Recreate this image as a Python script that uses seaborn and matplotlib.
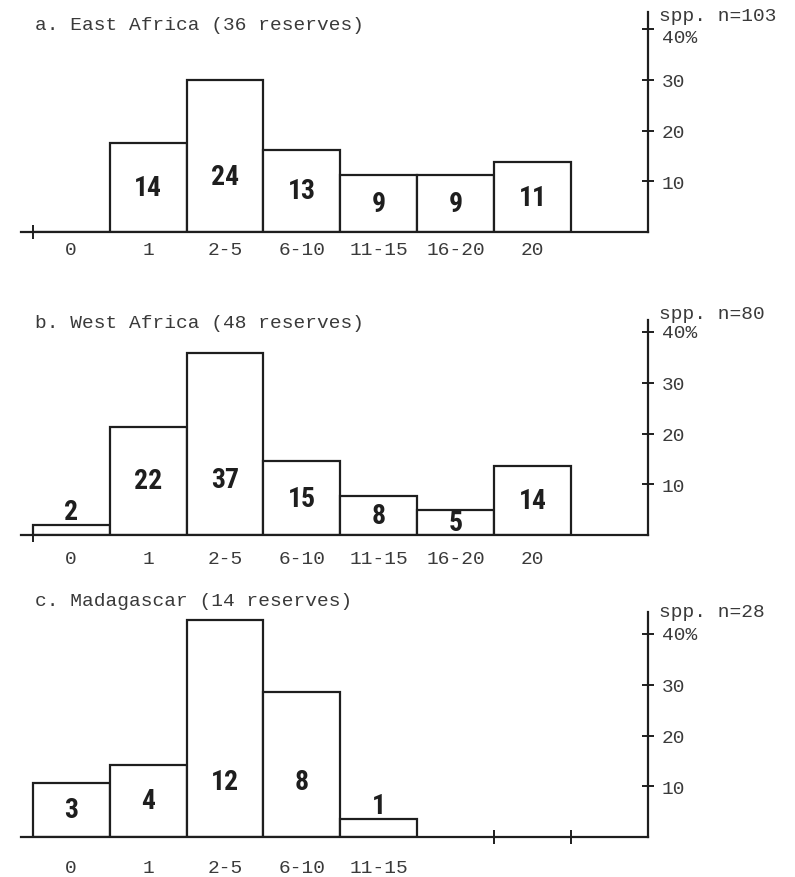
import matplotlib
matplotlib.use("Agg")
import numpy as np
import pandas as pd
import seaborn as sns
import matplotlib.pyplot as plt
from matplotlib import font_manager

# ---------------- data ----------------
categories_ab = ["0", "1", "2-5", "6-10", "11-15", "16-20", "20"]
categories_c = ["0", "1", "2-5", "6-10", "11-15"]
east_counts = [0, 14, 24, 13, 9, 9, 11]
west_counts = [2, 22, 37, 15, 8, 5, 14]
mada_counts = [3, 4, 12, 8, 1]
panel_titles = ["a. East Africa (36 reserves)",
                "b. West Africa (48 reserves)",
                "c. Madagascar (14 reserves)"]
n_labels = ["spp. n=103", "spp. n=80", "spp. n=28"]
pct_ticks = [10, 20, 30, 40]
pct_tick_labels = ["10", "20", "30", "40%"]

panels = [(categories_ab, east_counts), (categories_ab, west_counts), (categories_c, mada_counts)]

# ---------------- style ----------------
sns.set_theme(style="white")
mono = "Liberation Mono"
names = {f.name for f in font_manager.fontManager.ttflist}
num_font = dict(family="DejaVu Sans", weight="bold", stretch="condensed")
for cand in ["Liberation Sans Narrow", "Roboto Condensed", "Open Sans Condensed"]:
    if cand in names:
        num_font = dict(family=cand, weight="bold")
        break
plt.rcParams["font.family"] = [mono, "DejaVu Sans"]
INK = "#1e1e1e"
TXT = "#3a3a3a"

W, H = 795, 878
fig = plt.figure(figsize=(W / 100, H / 100), dpi=100)
fig.patch.set_facecolor("white")

px_per_pct = 5.075
bin_px = 76.9
axis_px = 648
xlo, xhi = -0.65, 7.5
left_px = axis_px - (xhi - xlo) * bin_px

baselines = [233, 536, 838]
ytops = [43.4, 42.3, 44.3]
title_y = [25, 323, 601]
label_pads = [6.5, 11, 16]
spp_offsets = [10, 13, 16]
top_label_va = ["top", "center", "center"]
edge_ticks = [[-0.5], [-0.5], [5.5, 6.5]]

for k, (cats, counts) in enumerate(panels):
    ax_h = ytops[k] * px_per_pct
    ax = fig.add_axes([left_px / W, (H - baselines[k]) / H,
                       (axis_px - left_px) / W, ax_h / H])
    total = sum(counts)
    df = pd.DataFrame({"cat": cats, "count": counts})
    df["pct"] = df["count"] / total * 100
    sns.barplot(data=df, x="cat", y="pct", order=cats, color="white",
                edgecolor=INK, linewidth=1.6, width=1.0, saturation=1,
                ax=ax)
    ax.set_xlim(xlo, xhi)
    ax.set_ylim(0, ytops[k])
    ax.set_xlabel("")
    ax.set_ylabel("")
    for s in ["top", "left"]:
        ax.spines[s].set_visible(False)
    for s in ["bottom", "right"]:
        ax.spines[s].set_visible(True)
        ax.spines[s].set_color(INK)
        ax.spines[s].set_linewidth(1.6)
    ax.yaxis.tick_right()
    ax.set_yticks(pct_ticks)
    ax.set_yticklabels(pct_tick_labels)
    ax.tick_params(axis="y", which="major", right=True, left=False,
                   direction="inout", length=8, width=1.4, color=INK,
                   labelsize=14, labelcolor=TXT, pad=6)
    ax.get_yticklabels()[-1].set_va(top_label_va[k])
    ax.set_xticks(range(len(cats)))
    ax.set_xticklabels(cats)
    ax.tick_params(axis="x", which="major", bottom=True, length=0,
                   labelsize=14, labelcolor=TXT, pad=label_pads[k])
    ax.set_xticks(edge_ticks[k], minor=True)
    ax.tick_params(axis="x", which="minor", bottom=True, direction="inout",
                   length=10, width=1.4, color=INK)
    ax.patch.set_alpha(0)

    for i, (c, p) in enumerate(zip(df["count"], df["pct"])):
        if c == 0:
            continue
        ypos = p + 2.7 if p < 4 else min(p / 2, 11)
        ax.text(i, ypos, str(c), ha="center", va="center", fontsize=20,
                color=INK, **num_font)

    ax.annotate(n_labels[k], xy=(1, 40), xycoords=("axes fraction", "data"),
                xytext=(8, spp_offsets[k]), textcoords="offset points",
                ha="left", va="center", fontsize=14, color=TXT,
                annotation_clip=False)
    fig.text(35 / W, 1 - title_y[k] / H, panel_titles[k], ha="left",
             va="center", fontsize=14, color=TXT)

fig.savefig("out.png", dpi=100, facecolor="white")
